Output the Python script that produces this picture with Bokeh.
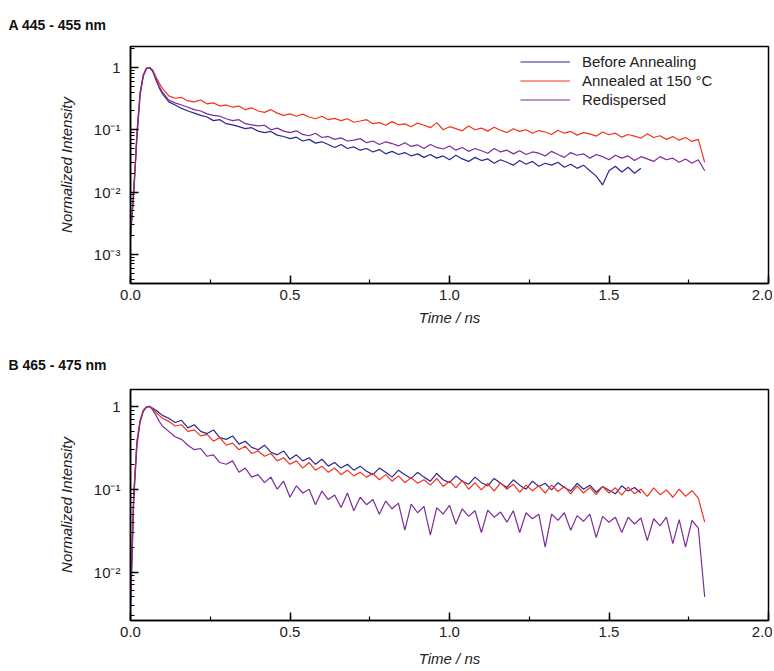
import numpy as np
from bokeh.plotting import figure
from bokeh.layouts import column
from bokeh.models import (Range1d, LogTicker, SingleIntervalTicker, PrintfTickFormatter,
                          CustomJSTickFormatter, Legend, LegendItem, Title)
from bokeh.embed import file_html
from bokeh.resources import INLINE

# ---------------- data ----------------
series_names = ["Before Annealing", "Annealed at 150 °C", "Redispersed"]
series_colors = ["#2b2a8e", "#f2331f", "#7d2c98"]

panel_titles = ["A 445 - 455 nm", "B 465 - 475 nm"]

# time axis (ns): rise samples then tail samples
t_rise = [0.00, 0.01, 0.02, 0.03, 0.04, 0.05, 0.06, 0.07, 0.08, 0.09, 0.10]
t_tail = list(np.round(np.arange(0.12, 1.8001, 0.02), 2))

# Panel A (445 - 455 nm)
A_before = [0.0018, 0.009, 0.07, 0.36, 0.72, 0.96, 0.99, 0.86, 0.63, 0.47, 0.38,
            0.28, 0.25, 0.22, 0.2, 0.185, 0.17, 0.16, 0.14, 0.145, 0.125,
            0.12, 0.112, 0.104, 0.108, 0.095, 0.09, 0.094, 0.082, 0.078, 0.072,
            0.076, 0.066, 0.07, 0.061, 0.064, 0.058, 0.052, 0.058, 0.05, 0.053,
            0.047, 0.05, 0.044, 0.048, 0.041, 0.045, 0.04, 0.043, 0.038, 0.041,
            0.036, 0.04, 0.035, 0.038, 0.033, 0.039, 0.034, 0.031, 0.036, 0.032,
            0.034, 0.029, 0.033, 0.03, 0.027, 0.032, 0.028, 0.031, 0.026, 0.029,
            0.027, 0.03, 0.025, 0.028, 0.024, 0.027, 0.022, 0.018, 0.013, 0.022,
            0.026, 0.021, 0.025, 0.02, 0.024]
A_annealed = [0.0022, 0.011, 0.09, 0.40, 0.76, 0.97, 1.0, 0.90, 0.70, 0.56, 0.46,
              0.35, 0.32, 0.33, 0.29, 0.28, 0.30, 0.26, 0.27, 0.24, 0.25,
              0.23, 0.24, 0.21, 0.225, 0.20, 0.19, 0.21, 0.185, 0.17, 0.18,
              0.165, 0.178, 0.16, 0.15, 0.165, 0.145, 0.152, 0.14, 0.15, 0.132,
              0.138, 0.145, 0.125, 0.13, 0.118, 0.135, 0.12, 0.124, 0.112, 0.128,
              0.118, 0.108, 0.13, 0.1, 0.112, 0.104, 0.096, 0.115, 0.1, 0.106,
              0.095, 0.11, 0.098, 0.09, 0.104, 0.094, 0.1, 0.088, 0.097, 0.092,
              0.084, 0.098, 0.088, 0.094, 0.082, 0.09, 0.086, 0.079, 0.092, 0.083,
              0.088, 0.076, 0.084, 0.079, 0.073, 0.086, 0.075, 0.08, 0.07, 0.078,
              0.068, 0.075, 0.065, 0.07, 0.03]
A_redispersed = [0.002, 0.01, 0.08, 0.38, 0.74, 0.97, 1.0, 0.87, 0.65, 0.50, 0.40,
                 0.30, 0.27, 0.25, 0.23, 0.21, 0.2, 0.18, 0.17, 0.165, 0.15,
                 0.14, 0.145, 0.125, 0.12, 0.115, 0.118, 0.1, 0.106, 0.095, 0.09,
                 0.096, 0.084, 0.08, 0.088, 0.075, 0.078, 0.07, 0.074, 0.066, 0.068,
                 0.072, 0.062, 0.066, 0.058, 0.064, 0.06, 0.055, 0.062, 0.054, 0.057,
                 0.05, 0.058, 0.052, 0.049, 0.055, 0.047, 0.052, 0.045, 0.05, 0.046,
                 0.042, 0.05, 0.044, 0.047, 0.041, 0.046, 0.04, 0.044, 0.042, 0.038,
                 0.045, 0.04, 0.036, 0.043, 0.039, 0.041, 0.035, 0.04, 0.037, 0.033,
                 0.039, 0.035, 0.038, 0.032, 0.037, 0.034, 0.031, 0.037, 0.033, 0.035,
                 0.03, 0.034, 0.029, 0.033, 0.022]

# Panel B (465 - 475 nm)
B_before = [0.004, 0.08, 0.36, 0.66, 0.88, 0.98, 1.0, 0.95, 0.90, 0.84, 0.78,
            0.72, 0.64, 0.68, 0.55, 0.6, 0.5, 0.47, 0.52, 0.42, 0.4,
            0.44, 0.35, 0.38, 0.32, 0.3, 0.34, 0.28, 0.26, 0.29, 0.23,
            0.26, 0.22, 0.24, 0.2, 0.23, 0.19, 0.21, 0.18, 0.2, 0.17,
            0.19, 0.165, 0.15, 0.18, 0.16, 0.14, 0.17, 0.15, 0.135, 0.16,
            0.14, 0.125, 0.155, 0.13, 0.12, 0.145, 0.125, 0.115, 0.14, 0.12,
            0.11, 0.135, 0.118, 0.105, 0.13, 0.112, 0.1, 0.125, 0.108, 0.118,
            0.098, 0.12, 0.105, 0.095, 0.118, 0.1, 0.112, 0.092, 0.108, 0.097,
            0.088, 0.11, 0.095, 0.105, 0.09]
B_annealed = [0.005, 0.09, 0.38, 0.68, 0.90, 0.99, 1.0, 0.93, 0.85, 0.78, 0.72,
              0.66, 0.58, 0.6, 0.5, 0.52, 0.44, 0.46, 0.38, 0.42, 0.34,
              0.36, 0.3, 0.33, 0.27, 0.29, 0.25, 0.27, 0.22, 0.24, 0.2,
              0.22, 0.18, 0.21, 0.17, 0.19, 0.16, 0.18, 0.15, 0.17, 0.145,
              0.16, 0.14, 0.155, 0.13, 0.15, 0.125, 0.145, 0.12, 0.138, 0.118,
              0.13, 0.112, 0.135, 0.108, 0.125, 0.104, 0.128, 0.1, 0.12, 0.098,
              0.118, 0.095, 0.12, 0.1, 0.115, 0.092, 0.112, 0.096, 0.11, 0.09,
              0.112, 0.094, 0.108, 0.088, 0.11, 0.09, 0.105, 0.086, 0.108, 0.09,
              0.104, 0.085, 0.106, 0.088, 0.1, 0.082, 0.104, 0.086, 0.098, 0.08,
              0.1, 0.082, 0.096, 0.078, 0.04]
B_redispersed = [0.003, 0.07, 0.33, 0.64, 0.87, 0.98, 1.0, 0.90, 0.78, 0.66, 0.58,
                 0.5, 0.43, 0.4, 0.34, 0.3, 0.31, 0.25, 0.26, 0.21, 0.2,
                 0.22, 0.16, 0.18, 0.14, 0.15, 0.12, 0.14, 0.1, 0.125, 0.08,
                 0.11, 0.09, 0.1, 0.065, 0.095, 0.075, 0.085, 0.06, 0.09, 0.055,
                 0.08, 0.065, 0.075, 0.05, 0.072, 0.058, 0.068, 0.032, 0.066, 0.052,
                 0.062, 0.028, 0.06, 0.05, 0.064, 0.038, 0.058, 0.047, 0.055, 0.03,
                 0.056, 0.046, 0.053, 0.04, 0.055, 0.03, 0.052, 0.044, 0.05, 0.02,
                 0.05, 0.042, 0.052, 0.032, 0.048, 0.041, 0.05, 0.026, 0.047, 0.04,
                 0.046, 0.03, 0.046, 0.038, 0.045, 0.024, 0.044, 0.036, 0.046, 0.022,
                 0.043, 0.02, 0.042, 0.034, 0.005]

x_ticks_interval = 0.5
x_axis_title = "Time / ns"
y_axis_title = "Normalized Intensity"

FONT = "Liberation Sans"
TEXT_COLOR = "#222222"

log_formatter = CustomJSTickFormatter(code=r"""
const e = Math.round(Math.log10(tick));
if (e === 0) { return "1"; }
const sup = {"-": "\u207b", "0": "\u2070", "1": "\u00b9", "2": "\u00b2", "3": "\u00b3",
             "4": "\u2074", "5": "\u2075", "6": "\u2076"};
return "10" + String(e).split("").map(c => sup[c]).join("");
""")

WIDTH = 772
LEFT = 130
RIGHT = 4


def make_panel(title, series, y_lo, y_hi, height, border_top, border_bottom,
               title_standoff, xlabel_standoff, legend):
    frame_h = height - border_top - border_bottom
    p = figure(width=WIDTH, height=height, x_range=Range1d(0, 2.0),
               y_range=Range1d(y_lo, y_hi), y_axis_type="log",
               output_backend="svg", toolbar_location=None,
               min_border_left=LEFT, min_border_right=RIGHT,
               min_border_top=border_top, min_border_bottom=border_bottom)
    p.title = Title(text=title, align="left", offset=-(LEFT - 8),
                    text_font=FONT, text_font_style="bold",
                    text_font_size="14px", text_color="#111111",
                    standoff=title_standoff)
    p.background_fill_color = "white"
    p.border_fill_color = "white"
    p.outline_line_color = "black"
    p.outline_line_width = 1.5
    p.grid.visible = False

    t_all = t_rise + t_tail
    renderers = []
    for vals, col in zip(series, series_colors):
        r = p.line(t_all[:len(vals)], vals, line_color=col, line_width=1.2)
        renderers.append(r)

    xa = p.xaxis[0]
    xa.ticker = SingleIntervalTicker(interval=x_ticks_interval, num_minor_ticks=2)
    xa.formatter = PrintfTickFormatter(format="%.1f")
    xa.axis_label = x_axis_title
    xa.axis_label_standoff = xlabel_standoff
    ya = p.yaxis[0]
    ya.ticker = LogTicker(num_minor_ticks=10, desired_num_ticks=5)
    ya.formatter = log_formatter
    ya.axis_label = y_axis_title
    ya.axis_label_standoff = 16
    for ax in (xa, ya):
        ax.axis_label_text_font_style = "italic"
        ax.axis_label_text_font = FONT
        ax.axis_label_text_font_size = "15px"
        ax.axis_label_text_color = TEXT_COLOR
        ax.axis_line_color = "black"
        ax.axis_line_width = 1.5
        ax.major_tick_in = 8
        ax.major_tick_out = 0
        ax.minor_tick_in = 4
        ax.minor_tick_out = 0
        ax.major_tick_line_width = 1.5
        ax.minor_tick_line_width = 1.2
        ax.major_tick_line_color = "black"
        ax.minor_tick_line_color = "black"
        ax.major_label_text_font = FONT
        ax.major_label_text_font_size = "15px"
        ax.major_label_text_color = TEXT_COLOR
    xa.major_label_standoff = 6
    ya.major_label_standoff = 10

    if legend:
        items = [LegendItem(label=n, renderers=[r]) for n, r in zip(series_names, renderers)]
        lg = Legend(items=items, location=(390, frame_h - 2 - 67 + 6),
                    border_line_color=None, background_fill_alpha=0,
                    padding=5, spacing=0, margin=0,
                    label_height=19, glyph_height=19, glyph_width=50,
                    label_standoff=12, label_text_font=FONT,
                    label_text_font_size="15px", label_text_color=TEXT_COLOR)
        p.add_layout(lg)
    return p


pA = make_panel(panel_titles[0], [A_before, A_annealed, A_redispersed],
                3.4e-4, 2.17, height=338, border_top=46, border_bottom=55,
                title_standoff=27, xlabel_standoff=6, legend=True)
pB = make_panel(panel_titles[1], [B_before, B_annealed, B_redispersed],
                0.0026, 1.6, height=332, border_top=50, border_bottom=50,
                title_standoff=33, xlabel_standoff=10, legend=False)

layout = column(pA, pB, spacing=0)
open("out.html", "w").write(file_html(layout, INLINE))
